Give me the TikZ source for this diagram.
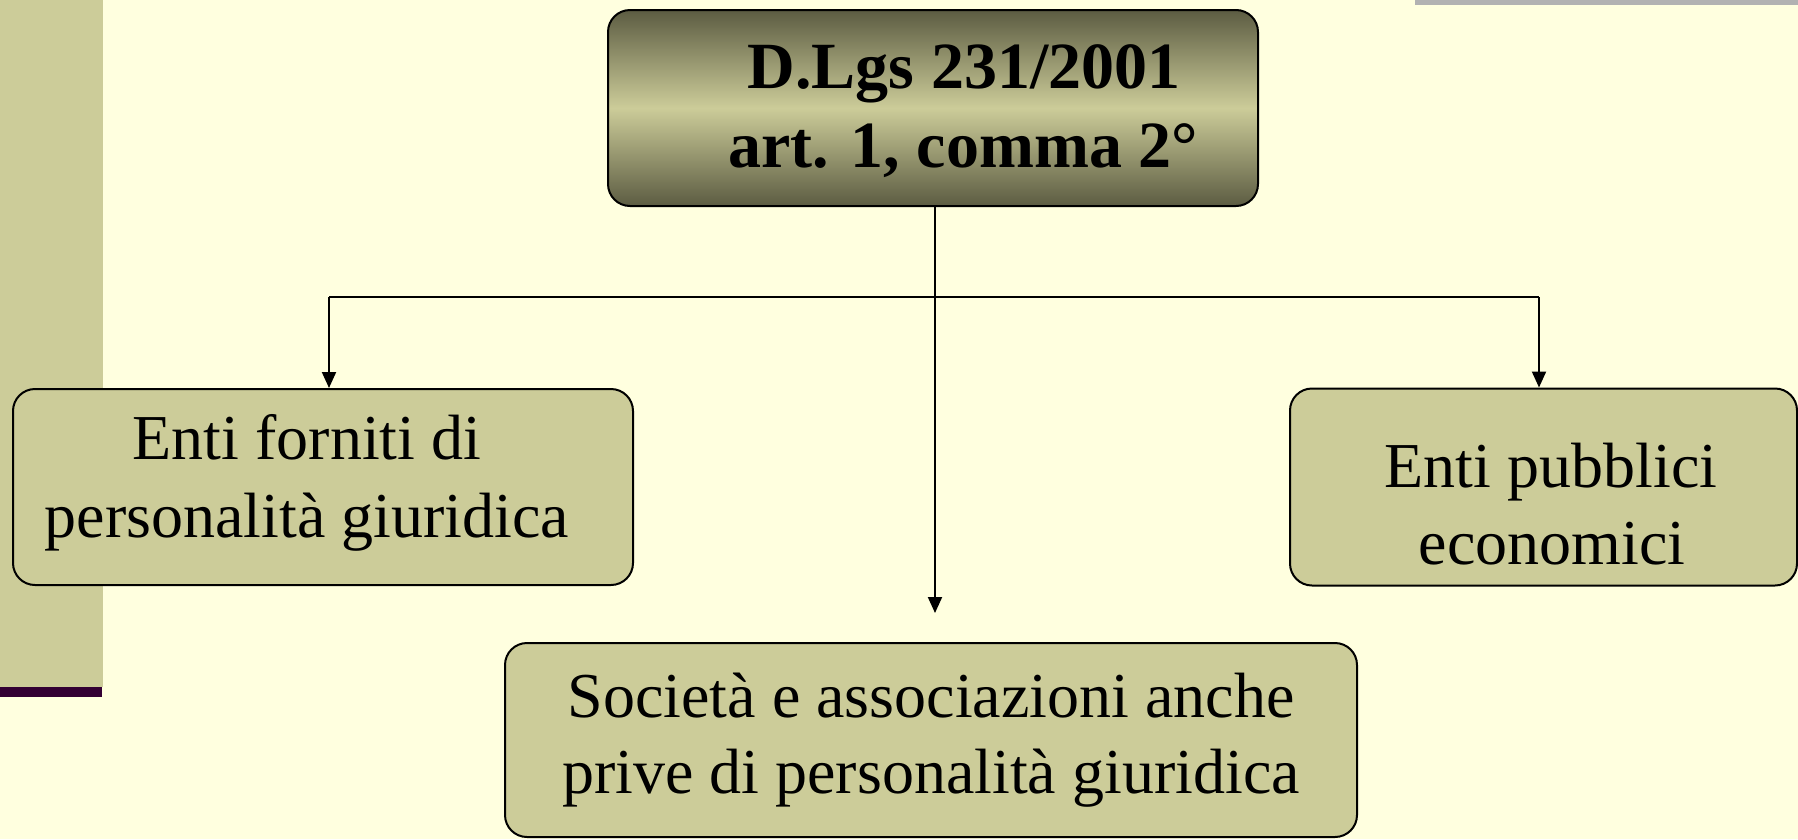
\documentclass[tikz,border=0pt]{standalone}
\usepackage{fontspec}
\setmainfont{Liberation Serif}
\usetikzlibrary{arrows.meta}
\definecolor{bgc}{HTML}{FFFFDF}
\definecolor{khaki}{HTML}{CCCC99}
\definecolor{darkk}{HTML}{5C5C42}
\definecolor{purp}{HTML}{330033}
\definecolor{grayb}{HTML}{B2B2B2}
\tikzset{
  box/.style={draw=black, line width=2pt, rounded corners=22pt, fill=khaki, inner sep=0pt},
  txt/.style={anchor=base, inner sep=0pt, font=\fontsize{64}{78}\selectfont},
  ttxt/.style={anchor=base, inner sep=0pt, font=\fontsize{66}{78}\selectfont\bfseries},
  conn/.style={draw=black, line width=2pt},
  arr/.style={conn, -{Triangle[width=14pt,length=16pt]}}
}
\begin{document}
\begin{tikzpicture}[x=1pt,y=-1pt]
\useasboundingbox (0,0) rectangle (1798,839);
\fill[bgc] (0,0) rectangle (1798,839);
\fill[khaki] (0,0) rectangle (103,687);
\fill[purp] (0,687) rectangle (102,697);
\fill[grayb] (1415,0) rectangle (1798,5);
% top box
\shade[draw=black, line width=2pt, rounded corners=22pt, top color=darkk, bottom color=darkk, middle color=khaki]
  (608,10) rectangle (1258,206);
\coordinate (tS) at (935,206);
\node[ttxt] (t1) at (964,88) {D.Lgs 231/2001};
\node[ttxt] (t2) at (963,167) {art. 1, comma 2°};
% other boxes
\node[box, minimum width=620pt, minimum height=196pt] (l) at (323,487) {};
\node[box, minimum width=507pt, minimum height=197pt] (r) at (1543.5,487) {};
\node[box, minimum width=852pt, minimum height=194pt] (b) at (931,740) {};
\node[txt] (l1) at (307,459) {Enti forniti di};
\node[txt] (l2) at (307,537) {personalità giuridica};
\node[txt] (r1) at (1551,487) {Enti pubblici};
\node[txt] (r2) at (1552,564) {economici};
\node[txt] (b1) at (931,717) {Società e associazioni anche};
\node[txt] (b2) at (931,793) {prive di personalità giuridica};
% connectors
\coordinate (m) at (935,613);
\coordinate (hl) at (329,297);
\coordinate (hr) at (1539,297);
\draw[arr] (tS) -- (m);
\draw[conn] (hl) -- (hr);
\draw[arr] (hl) -- (l.north -| hl);
\draw[arr] (hr) -- (r.north -| hr);
\end{tikzpicture}
\end{document}
